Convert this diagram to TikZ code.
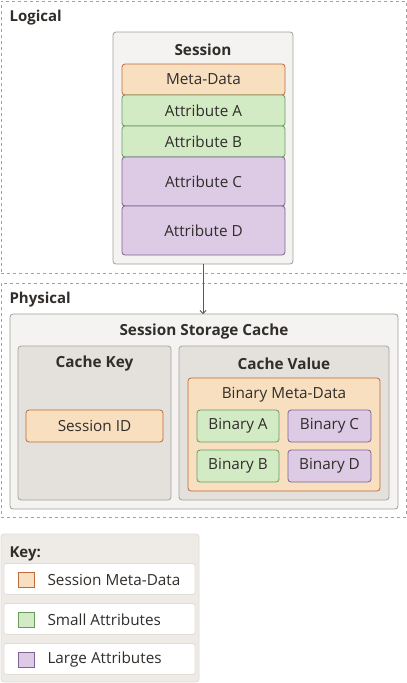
\documentclass[tikz,border=0pt]{standalone}
\usepackage{fontspec}
\setmainfont{Open Sans}
\usetikzlibrary{positioning,arrows.meta}

\definecolor{ink}{HTML}{312D2A}
\definecolor{zoneline}{HTML}{A0A0A0}
\definecolor{panelfill}{HTML}{F4F3F1}
\definecolor{panelline}{HTML}{A19E9B}
\definecolor{innerfill}{HTML}{E4E0DB}
\definecolor{innerline}{HTML}{A7A39E}
\definecolor{metafill}{HTML}{F7DFBF}
\definecolor{metaline}{HTML}{BF6A3A}
\definecolor{smallfill}{HTML}{D3EBC5}
\definecolor{smallline}{HTML}{6A9B5E}
\definecolor{largefill}{HTML}{DDCAE5}
\definecolor{largeline}{HTML}{7E6394}
\definecolor{keyfill}{HTML}{EEEBE6}
\definecolor{keyline}{HTML}{E0DCD6}

\tikzset{
  box/.style={rectangle, rounded corners=3pt, line width=0.8pt,
    inner sep=0pt, outer sep=0pt},
  zone/.style={draw=zoneline, dashed, line width=0.8pt, inner sep=0pt},
  zonetitle/.style={font=\fontsize{15}{18}\selectfont\bfseries, anchor=west},
  title/.style={font=\fontsize{15.3}{18}\selectfont\bfseries},
  panel/.style={box, draw=panelline, fill=panelfill},
  inner/.style={box, draw=innerline, fill=innerfill},
  meta/.style={box, draw=metaline, fill=metafill},
  small/.style={box, draw=smallline, fill=smallfill},
  large/.style={box, draw=largeline, fill=largefill},
  keyrow/.style={box, draw=keyline, fill=white, rounded corners=2pt,
    minimum width=191pt, minimum height=31pt},
  swatch/.style={rectangle, line width=0.8pt, minimum width=16pt,
    minimum height=15pt, inner sep=0pt},
  flow/.style={-{Straight Barb[length=3pt,width=6pt]}, draw=ink!80, line width=0.8pt}
}

\begin{document}
\begin{tikzpicture}[x=1pt,y=-1pt,font=\fontsize{15.3}{18}\selectfont,text=ink]
\useasboundingbox (0,0) rectangle (407,683);

% Logical area
\node[zone,
    minimum width=405pt,
    minimum height=272pt] (logical) at (203.5,137) {};
\node[zonetitle] (logicaltitle) at (6,17.5) {Logical};

% Session
\node[panel,
    minimum width=180pt,
    minimum height=232pt] (session) at (203,148) {};
\node[title] (sessiontitle) at (203,49.5) {Session};

\node[meta,
    minimum width=163pt,
    minimum height=31pt] (metadata) at (203.5,79.5) {Meta-Data};
\node[small,
    below=0pt of metadata,
    minimum width=163pt,
    minimum height=31pt] (attra) {Attribute A};
\node[small,
    below=0pt of attra,
    minimum width=163pt,
    minimum height=31pt] (attrb) {Attribute B};
\node[large,
    below=0pt of attrb,
    minimum width=163pt,
    minimum height=49pt] (attrc) {Attribute C};
\node[large,
    below=0pt of attrc,
    minimum width=163pt,
    minimum height=49pt] (attrd) {Attribute D};

% Physical area
\node[zone,
    minimum width=405pt,
    minimum height=234pt] (physical) at (203.5,400) {};
\node[zonetitle] (physicaltitle) at (6,299.5) {Physical};

% Session storage cache
\node[panel,
    minimum width=388pt,
    minimum height=195pt] (storage) at (204,411.5) {};
\node[title] (storagetitle) at (204,331.5) {Session Storage Cache};

% Cache key
\node[inner,
    minimum width=153pt,
    minimum height=154pt] (cachekey) at (94.5,423) {};
\node[title] (cachekeytitle) at (94.5,363.5) {Cache Key};
\node[meta,
    minimum width=137pt,
    minimum height=32pt] (sessionid) at (94.5,426) {Session ID};

% Cache value
\node[inner,
    minimum width=210pt,
    minimum height=154pt] (cachevalue) at (284,423) {};
\node[title] (cachevaluetitle) at (284,363.5) {Cache Value};
\node[meta,
    minimum width=192pt,
    minimum height=113pt] (binmeta) at (284,434.5) {};
\node (binmetatitle) at (284,395) {Binary Meta-Data};

\node[small,
    minimum width=82pt,
    minimum height=32pt] (bina) at (238,426) {Binary A};
\node[large,
    right=9pt of bina,
    minimum width=83pt,
    minimum height=32pt] (binc) {Binary C};
\node[small,
    below=8pt of bina,
    minimum width=82pt,
    minimum height=32pt] (binb) {Binary B};
\node[large,
    below=8pt of binc,
    minimum width=83pt,
    minimum height=32pt] (bind) {Binary D};

% Arrow
\draw[flow] (session.south) -- (session.south |- storage.north);

% Key
\node[box, fill=keyfill, draw=keyline,
    minimum width=198pt,
    minimum height=148pt] (key) at (100,608) {};
\node[zonetitle] (keytitle) at (6,553.5) {Key:};

\node[keyrow] (keyrow1) at (99.5,579) {};
\node[keyrow] (keyrow2) at (99.5,619) {};
\node[keyrow] (keyrow3) at (99.5,659) {};

\node[swatch, draw=metaline, fill=metafill] (swatch1) at (26,580) {};
\node[swatch, draw=smallline, fill=smallfill] (swatch2) at (26,620) {};
\node[swatch, draw=largeline, fill=largefill] (swatch3) at (26,660) {};

\node[anchor=west] (keytext1) at (44,580) {Session Meta-Data};
\node[anchor=west] (keytext2) at (44,620) {Small Attributes};
\node[anchor=west] (keytext3) at (44,660) {Large Attributes};

\end{tikzpicture}
\end{document}
